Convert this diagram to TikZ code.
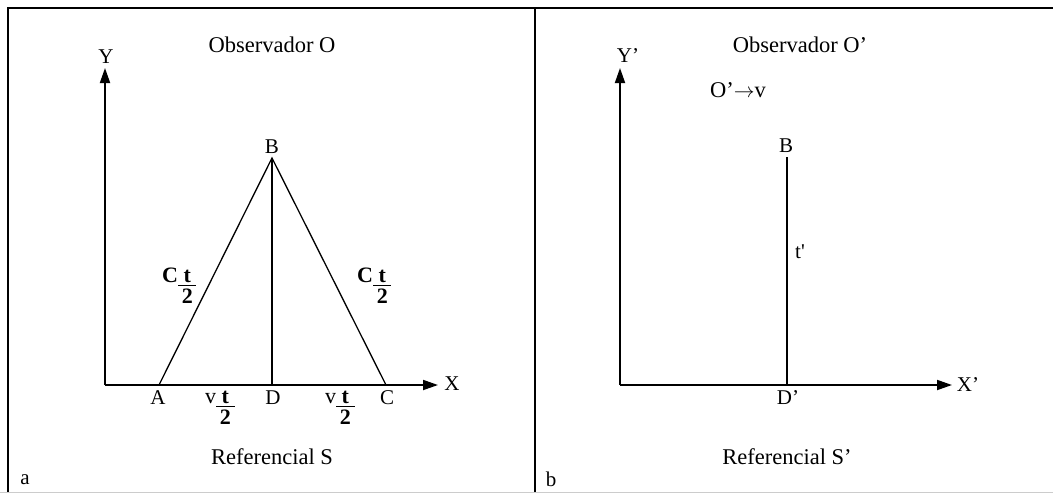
\documentclass[tikz,border=0pt]{standalone}
\usepackage{fontspec}
\setmainfont{Liberation Serif}
\usetikzlibrary{arrows.meta}
\newcommand{\halfT}{{\setlength{\arrayrulewidth}{1.2pt}\begin{tabular}[t]{@{\,}c@{\,}}\textbf{t}\\[-4pt]\hline\rule{0pt}{16pt}\textbf{2}\end{tabular}}}
\begin{document}
\begin{tikzpicture}[x=1pt,y=-1pt,
  lbl/.style={inner sep=1pt,font=\fontsize{21}{23}\selectfont},
  ttl/.style={inner sep=1pt,font=\fontsize{22.5}{24}\selectfont},
  frl/.style={inner sep=0pt,anchor=base west,font=\fontsize{22}{24}\selectfont},
  axis/.style={line width=1.8pt,-{Triangle[length=15pt,width=10pt]}},
  thin/.style={line width=1.3pt},
  frame/.style={line width=1.8pt}]
\useasboundingbox (0,0) rectangle (1053,493);
% frame
\coordinate (tl) at (8,8);
\coordinate (tr) at (1053,8);
\coordinate (bl) at (8,493);
\coordinate (mt) at (535,8);
\coordinate (mb) at (535,493);
\draw[frame] (bl) -- (tl) -- (tr);
\draw[frame] (mt) -- (mb);
\draw[gray!40,line width=1pt] (0,492) -- (1053,492);
% ---------- panel a ----------
\coordinate (O1) at (105,385);
\coordinate (Y1) at (105,68);
\coordinate (X1) at (438,385);
\draw[axis] (O1) -- (Y1);
\draw[axis] (O1) -- (X1);
\coordinate (A) at (159,385);
\coordinate (B) at (272,158);
\coordinate (C) at (386,385);
\coordinate (D) at (272,385);
\draw[thin] (A) -- (B) -- (C);
\draw[thin] (B) -- (D);
\node[lbl] (ylab) at (106,57) {Y};
\node[lbl] (xlab) at (452,384) {X};
\node[lbl] (blab) at (272,147) {B};
\node[lbl] (alab) at (158,398) {A};
\node[lbl] (dlab) at (273,398) {D};
\node[lbl] (clab) at (387,398) {C};
\node[frl] (vt1) at (205,403) {v\halfT};
\node[frl] (vt2) at (325,403) {v\halfT};
\node[frl] (ct1) at (162,282) {\textbf{C}\halfT};
\node[frl] (ct2) at (357,282) {\textbf{C}\halfT};
\node[ttl] (obs1) at (272,45) {Observador O};
\node[ttl] (ref1) at (272,457) {Referencial S};
\node[lbl] (pa) at (25,480) {a};
% ---------- panel b ----------
\coordinate (O2) at (620,385);
\coordinate (Y2) at (620,68);
\coordinate (X2) at (952,385);
\draw[axis] (O2) -- (Y2);
\draw[axis] (O2) -- (X2);
\coordinate (B2) at (787,157);
\coordinate (D2) at (787,385);
\draw[thin] (B2) -- (D2);
\node[lbl] (ylab2) at (628,56) {Y’};
\node[lbl] (xlab2) at (968,385) {X’};
\node[lbl] (blab2) at (786,146) {B};
\node[lbl] (tp) at (800,252) {t\textquotesingle};
\node[lbl] (dlab2) at (788,398) {D’};
\node[ttl] (ov) at (738,90) {O’$\rightarrow$v};
\node[ttl] (obs2) at (800,45) {Observador O’};
\node[ttl] (ref2) at (787,457) {Referencial S’};
\node[lbl] (pb) at (551,479) {b};
\end{tikzpicture}
\end{document}
